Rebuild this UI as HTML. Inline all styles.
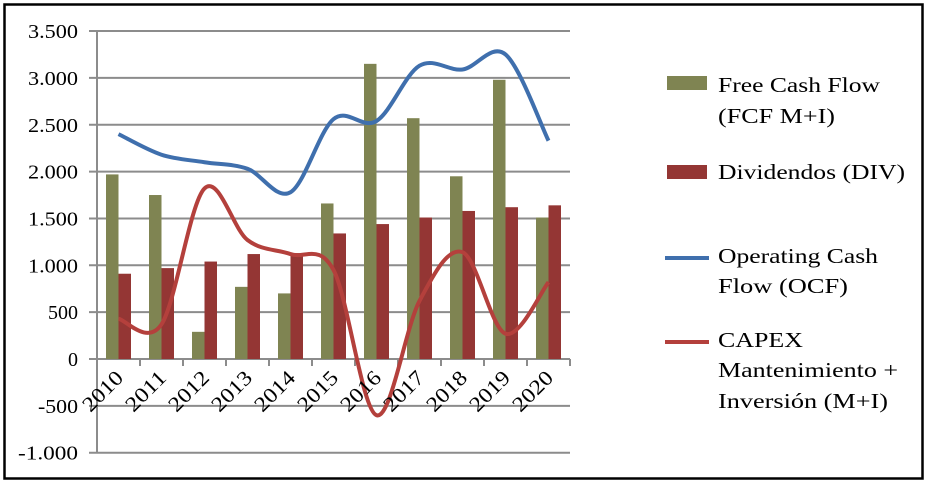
<!DOCTYPE html>
<html><head><meta charset="utf-8"><style>
body{margin:0;background:#fff}
svg{display:block;font-family:"Liberation Serif",serif}
</style></head><body>
<svg id="s" width="928" height="484" xmlns="http://www.w3.org/2000/svg">
<rect x="4.5" y="4.5" width="918" height="474" fill="#fff" stroke="#000" stroke-width="2.5"/>
<g id="grid" stroke="#8c8c8c" stroke-width="2"></g>
<g id="bars"></g>
<g id="lines"></g>
<g id="labels" font-size="20" fill="#000"></g>
<g font-size="21" fill="#000">
<rect x="667" y="76" width="40" height="14" fill="#7f8452"/>
<text x="718" y="92" textLength="162" lengthAdjust="spacingAndGlyphs">Free Cash Flow</text><text x="718" y="123" textLength="117" lengthAdjust="spacingAndGlyphs">(FCF M+I)</text>
<rect x="667" y="165" width="40" height="14" fill="#943634"/>
<text x="718" y="179" textLength="187" lengthAdjust="spacingAndGlyphs">Dividendos (DIV)</text>
<line x1="665" y1="258" x2="709" y2="258" stroke="#3f6fad" stroke-width="4"/>
<text x="718" y="263" textLength="160" lengthAdjust="spacingAndGlyphs">Operating Cash</text><text x="718" y="293" textLength="130" lengthAdjust="spacingAndGlyphs">Flow (OCF)</text>
<line x1="665" y1="342" x2="709" y2="342" stroke="#b4403c" stroke-width="4"/>
<text x="718" y="347" textLength="85" lengthAdjust="spacingAndGlyphs">CAPEX</text><text x="718" y="377" textLength="180" lengthAdjust="spacingAndGlyphs">Mantenimiento +</text><text x="718" y="408" textLength="170" lengthAdjust="spacingAndGlyphs">Inversión (M+I)</text>
</g>
</svg>
<script>
const NS="http://www.w3.org/2000/svg";
function el(p,t,a,txt){const e=document.createElementNS(NS,t);for(const k in a)e.setAttribute(k,a[k]);if(txt!=null)e.textContent=txt;document.getElementById(p).appendChild(e);return e;}
const y0=359,sc=0.0937,L=97,R=570,W=43;
const Y=v=>y0-v*sc;
const labs=["3.500","3.000","2.500","2.000","1.500","1.000","500","0","-500","-1.000"];
labs.forEach((t,i)=>{const v=3500-500*i;const y=Y(v);
 el("grid","line",{x1:L-8,y1:y,x2:R,y2:y});
 const n=t.length;
 el("labels","text",{x:78,y:y+7,"text-anchor":"end",textLength:n*10,lengthAdjust:"spacingAndGlyphs"},t);});
el("grid","line",{x1:L,y1:Y(3500),x2:L,y2:Y(-1000)});
for(let i=1;i<=11;i++){const x=L+W*i;el("grid","line",{x1:x,y1:y0,x2:x,y2:y0+7});}
const fcf=[1970,1750,290,770,700,1660,3150,2570,1950,2980,1510];
const div=[910,970,1040,1120,1130,1340,1440,1510,1580,1620,1640];
const ocf=[2400,2180,2100,2030,1780,2560,2540,3130,3090,3250,2330];
const cap=[430,370,1820,1270,1120,950,-600,620,1140,270,820];
for(let i=0;i<11;i++){const x=L+W*i;
 el("bars","rect",{x:x+9,y:Y(fcf[i]),width:12.5,height:fcf[i]*sc,fill:"#7f8452"});
 el("bars","rect",{x:x+21.5,y:Y(div[i]),width:12.5,height:div[i]*sc,fill:"#943634"});
 el("labels","text",{x:0,y:0,"text-anchor":"end","font-size":21,textLength:48,lengthAdjust:"spacingAndGlyphs",transform:`translate(${x+W/2+6},${y0+20}) rotate(-45)`},String(2010+i));
}
function path(v){const p=v.map((d,i)=>[L+W/2+W*i,Y(d)]);let s=`M${p[0][0]},${p[0][1]}`;
 for(let i=0;i<p.length-1;i++){const a=p[i-1]||p[i],b=p[i],c=p[i+1],d=p[i+2]||c;
 const t=1/6;s+=` C${b[0]+(c[0]-a[0])*t},${b[1]+(c[1]-a[1])*t} ${c[0]-(d[0]-b[0])*t},${c[1]-(d[1]-b[1])*t} ${c[0]},${c[1]}`;}return s;}
el("lines","path",{d:path(ocf),fill:"none",stroke:"#3f6fad","stroke-width":4});
el("lines","path",{d:path(cap),fill:"none",stroke:"#b4403c","stroke-width":4});
</script>
</body></html>
